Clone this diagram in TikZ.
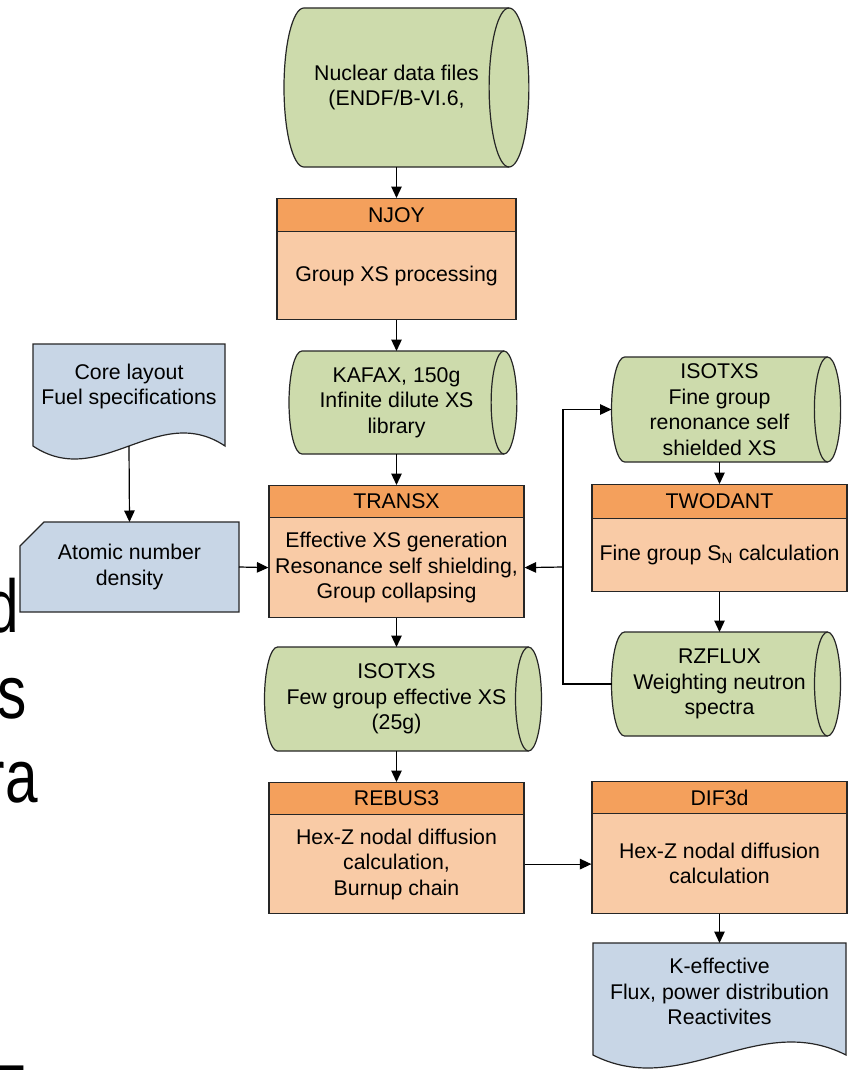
\documentclass[tikz,border=0pt]{standalone}
\usepackage{fontspec}
\setmainfont{Liberation Sans}
\usetikzlibrary{arrows.meta,calc}
\pgfdeclarelayer{back}
\pgfdeclarelayer{bg}
\pgfsetlayers{back,bg,main}
\definecolor{cylgreen}{HTML}{CDDBAC}
\definecolor{hdrorange}{HTML}{F4A05C}
\definecolor{bodyorange}{HTML}{F9CBA6}
\definecolor{docblue}{HTML}{C8D6E6}
\definecolor{edgecol}{HTML}{262626}
\tikzset{
  basetext/.style={font=\fontsize{21.3}{25.5}\selectfont, text=black, align=center, inner sep=0pt},
  outline/.style={draw=edgecol, line width=1.2pt},
  cylnode/.style={basetext, outer sep=0pt},
  cylshape/.style={outline, fill=cylgreen},
  hdrbox/.style={basetext, outline, fill=hdrorange},
  bodybox/.style={basetext, outline, fill=bodyorange},
  docshape/.style={outline, fill=docblue},
  shapenode/.style={basetext, outer sep=0pt},
  conn/.style={draw=black, line width=1.2pt},
  arr/.style={conn, -{Triangle[length=11.5pt,width=10.5pt]}},
  bigtxt/.style={font=\fontsize{75}{85}\selectfont, text=black, inner sep=0pt, anchor=base east, xscale=0.78, transform shape},
}
% cylinder: name, cx, cy, width (left extreme to ellipse centre), height, text
\newcommand\cyl[6]{%
  \pgfmathsetmacro\cL{#2-#4/2}%
  \pgfmathsetmacro\cR{#2+#4/2}%
  \pgfmathsetmacro\cT{#3-#5/2}%
  \pgfmathsetmacro\cB{#3+#5/2}%
  \pgfmathsetmacro\ce{0.125*#5}%
  \pgfmathsetmacro\cex{0.5523*\ce}%
  \pgfmathsetmacro\cky{0.5523*#5/2}%
  \node[cylnode, minimum width=#4pt, minimum height=#5pt] (#1) at (#2,#3) {#6};
  \begin{pgfonlayer}{bg}
    \draw[cylshape] (\cL+\ce,\cT) -- (\cR,\cT)
      .. controls (\cR+\cex,\cT) and (\cR+\ce,#3-\cky) .. (\cR+\ce,#3)
      .. controls (\cR+\ce,#3+\cky) and (\cR+\cex,\cB) .. (\cR,\cB)
      -- (\cL+\ce,\cB)
      .. controls (\cL+\ce-\cex,\cB) and (\cL,#3+\cky) .. (\cL,#3)
      .. controls (\cL,#3-\cky) and (\cL+\ce-\cex,\cT) .. cycle;
    \draw[outline] (\cR,\cT)
      .. controls (\cR-\cex,\cT) and (\cR-\ce,#3-\cky) .. (\cR-\ce,#3)
      .. controls (\cR-\ce,#3+\cky) and (\cR-\cex,\cB) .. (\cR,\cB);
  \end{pgfonlayer}
}
% process box: name, cx, top, width, header h, body h, header, body
\newcommand\proc[8]{%
  \node[hdrbox, minimum width=#4pt, minimum height=#5pt, anchor=north] (#1h) at (#2,#3) {#7};
  \node[bodybox, minimum width=#4pt, minimum height=#6pt, anchor=north] (#1) at (#2,{#3+#5}) {#8};
}
% document: name, cx, top, width, straight height, text cy, text
\newcommand\docu[7]{%
  \pgfmathsetmacro\dL{#2-#4/2}%
  \pgfmathsetmacro\dR{#2+#4/2}%
  \pgfmathsetmacro\dB{#3+#5}%
  \pgfmathsetmacro\dw{0.35*#4}%
  \node[shapenode, minimum width=#4pt, minimum height=#5pt, anchor=north] (#1) at (#2,#3) {};
  \node[basetext] (#1t) at (#2,#6) {#7};
  \begin{pgfonlayer}{bg}
    \draw[docshape] (\dL,#3) -- (\dR,#3) -- (\dR,\dB)
      .. controls (\dR-\dw,\dB-45) and (\dL+\dw,\dB+45) .. (\dL,\dB) -- cycle;
  \end{pgfonlayer}
}
\begin{document}
\begin{tikzpicture}[x=1pt,y=-1pt]
\useasboundingbox (0,0) rectangle (850,1070);
\begin{pgfonlayer}{back}
  \fill[white] (0,0) rectangle (850,1070);
\end{pgfonlayer}

% cut-off slide text at the left edge
\begin{scope}
  \clip (0,0) rectangle (850,1070);
  \node[bigtxt] (fragd) at (19,632) {d};
  \node[bigtxt] (frags) at (27,718) {s};
  \node[bigtxt] (fragra) at (38,802) {ra};
  \node[bigtxt] (fragf) at (26,1117) {F};
\end{scope}

% left column
\cyl{nuc}{396.5}{87.5}{225}{159}{Nuclear data files\\(ENDF/B-VI.6,}
\proc{njoy}{396.5}{198}{239}{33}{88}{NJOY}{Group XS processing}
\cyl{kafax}{396.5}{402.5}{215}{103}{KAFAX, 150g\\Infinite dilute XS\\library}
\proc{transx}{396.5}{485}{255}{32}{100}{TRANSX}{Effective XS generation\\Resonance self shielding,\\Group collapsing}
\cyl{isofew}{396.5}{699}{264}{104}{ISOTXS\\Few group effective XS\\(25g)}
\proc{rebus}{396.5}{782}{255}{32}{99}{REBUS3}{Hex-Z nodal diffusion\\calculation,\\Burnup chain}

% right column
\cyl{isofine}{719.5}{409.5}{216}{105}{ISOTXS\\Fine group\\renonance self\\shielded XS}
\proc{twodant}{719.5}{484}{255}{34}{73}{TWODANT}{Fine group S\textsubscript{N} calculation}
\cyl{rzflux}{719.5}{684}{216}{104}{RZFLUX\\Weighting neutron\\spectra}
\proc{dif}{719.5}{781}{255}{32}{100}{DIF3d}{Hex-Z nodal diffusion\\calculation}
\docu{keff}{719.5}{943}{253}{112}{991.5}{K-effective\\Flux, power distribution\\Reactivites}

% far left
\docu{core}{129}{344}{192}{102}{386.5}{Core layout\\Fuel specifications}
\node[shapenode, minimum width=219pt, minimum height=90pt] (atomic) at (129.5,567) {Atomic number\\density};
\begin{pgfonlayer}{bg}
  \draw[docshape] ($(atomic.north west)+(24,0)$) -- (atomic.north east) -- (atomic.south east)
    -- (atomic.south west) -- ($(atomic.north west)+(0,24)$) -- cycle;
\end{pgfonlayer}

% connectors
\draw[arr] (nuc.south) -- (njoyh.north);
\draw[arr] (njoy.south) -- (kafax.north);
\draw[arr] (kafax.south) -- (transxh.north);
\draw[arr] (transx.south) -- (isofew.north);
\draw[arr] (isofew.south) -- (rebush.north);
\draw[arr] (core.south) -- (atomic.north);
\draw[arr] (atomic.east) -- (transx.west);
\draw[arr] (isofine.south) -- (twodanth.north);
\draw[arr] (twodant.south) -- (rzflux.north);
\draw[arr] (dif.south) -- (keff.north);
\draw[arr] (rebus.east) -- (rebus.east -| dif.west);
\coordinate (junction) at (563,567);
\draw[conn] (rzflux.west) -| (junction);
\draw[arr] (junction) |- (isofine.west);
\draw[arr] (junction) -- (transx.east);
\end{tikzpicture}
\end{document}
